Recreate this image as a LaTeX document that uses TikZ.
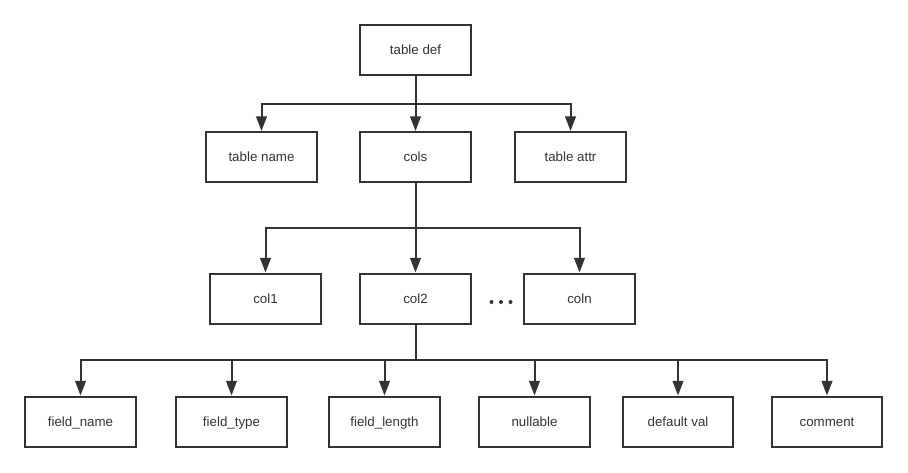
\documentclass[tikz,border=0pt]{standalone}
\usepackage{fontspec}
\setmainfont{Liberation Sans}
\usetikzlibrary{arrows.meta,calc}
\definecolor{ink}{HTML}{333333}
\begin{document}
\begin{tikzpicture}[x=0.75pt,y=-0.75pt,
  box/.style={draw=ink,line width=1.5pt,minimum width=83pt,minimum height=37.5pt,inner sep=0pt,text=ink,text height=8.5pt,text depth=1.5pt,font=\fontsize{10}{12}\selectfont},
  conn/.style={draw=ink,line width=1.5pt},
  arr/.style={conn,-{Triangle[width=8pt,length=11pt]}},
  dot/.style={circle,fill=ink,inner sep=0pt,minimum size=3pt}]
\useasboundingbox (0,0) rectangle (908,472);
% row 1
\node[box] (def) at (415.5,49.5) {table def};
% row 2
\node[box] (tname) at (261.5,157) {table name};
\node[box] (cols)  at (415.5,157) {cols};
\node[box] (tattr) at (570.5,157) {table attr};
% row 3
\node[box] (c1) at (265.5,298.5) {col1};
\node[box] (c2) at (415.5,298.5) {col2};
\node[box] (cn) at (579.5,298.5) {coln};
\node[dot] (d1) at (491.5,302) {};
\node[dot] (d2) at (501,302) {};
\node[dot] (d3) at (510.5,302) {};
% row 4
\node[box] (f1) at (80.5,421.5) {field\_name};
\node[box] (f2) at (231.5,421.5) {field\_type};
\node[box] (f3) at (384.5,421.5) {field\_length};
\node[box] (f4) at (534.5,421.5) {nullable};
\node[box] (f5) at (678,421.5) {default val};
\node[box] (f6) at (827,421.5) {comment};
% junctions
\coordinate (j1) at (415.5,104);
\coordinate (j2) at (415.5,228);
\coordinate (j3) at (415.5,360);
% connectors
\draw[conn] (def.south) -- (j1);
\foreach \n in {tname,cols,tattr} \draw[arr] (j1) -| (\n.north);
\draw[conn] (cols.south) -- (j2);
\foreach \n in {c1,c2,cn} \draw[arr] (j2) -| (\n.north);
\draw[conn] (c2.south) -- (j3);
\foreach \n in {f1,f2,f3,f4,f5,f6} \draw[arr] (j3) -| (\n.north);
\end{tikzpicture}
\end{document}
